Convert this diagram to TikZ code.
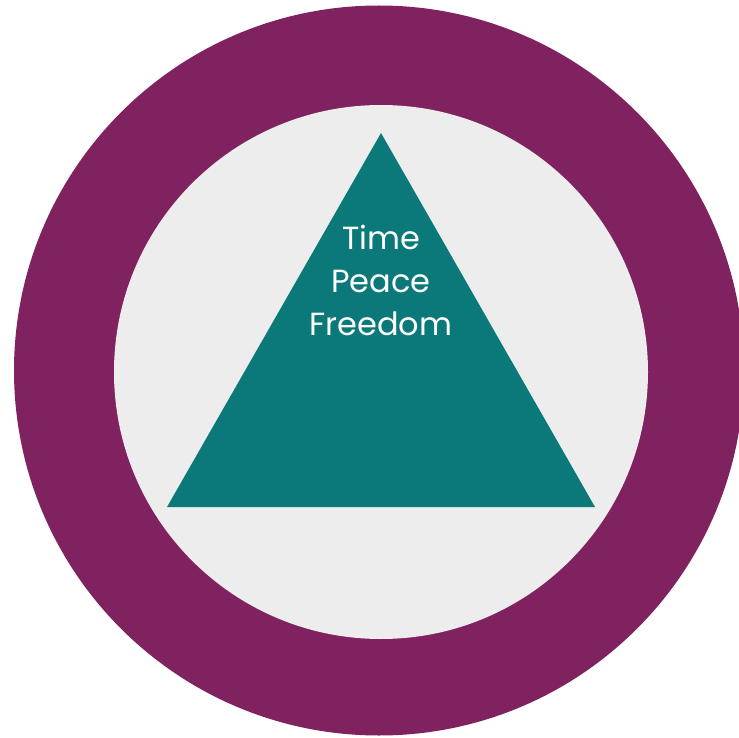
\documentclass[tikz,border=0pt]{standalone}
\usepackage{fontspec}
\setmainfont{Poppins}
\definecolor{ringPurple}{RGB}{128,33,96}
\definecolor{discGray}{RGB}{237,237,237}
\definecolor{pyramidTeal}{RGB}{11,121,122}
\tikzset{
    ring/.style={fill=ringPurple, draw=none},
    disc/.style={fill=discGray, draw=none},
    pyramid/.style={fill=pyramidTeal, draw=none},
    value/.style={text=white, align=center, inner sep=0pt,
        font=\fontsize{32}{43}\selectfont}
}
\begin{document}
\begin{tikzpicture}[x=1pt, y=-1pt]
    \useasboundingbox (0,0) rectangle (739,738);
    \coordinate (centre) at (379,370.5);
    \fill[ring] (centre) circle (365);
    \fill[disc] (381,372) circle (267);

    \coordinate (apex) at (381,133);
    \coordinate (baseLeft) at (167,507);
    \coordinate (baseRight) at (595,507);
    \fill[pyramid] (apex) -- (baseRight) -- (baseLeft) -- cycle;

    \node[value] (values) at (381,280) {Time\\Peace\\Freedom};
\end{tikzpicture}
\end{document}
